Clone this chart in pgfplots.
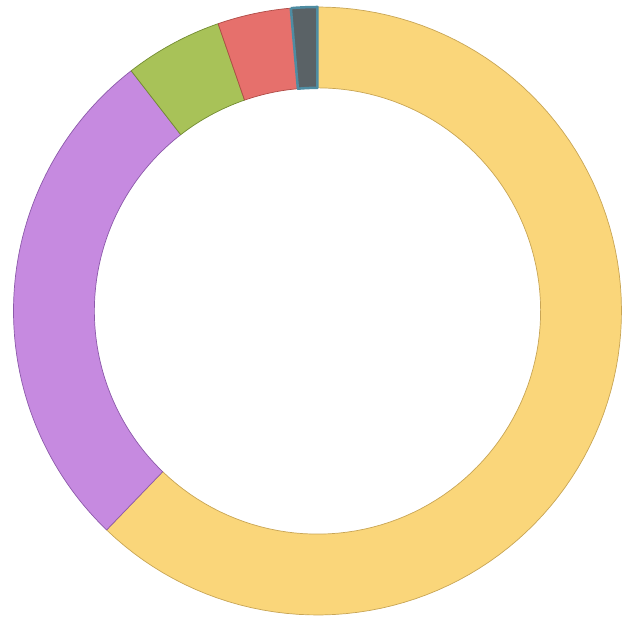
\documentclass[border=0pt]{standalone}
\usepackage{pgfplots}
\pgfplotsset{compat=1.18}
\definecolor{cyel}{RGB}{250,214,122}
\definecolor{cyeld}{RGB}{200,165,85}
\definecolor{cpur}{RGB}{198,138,224}
\definecolor{cpurd}{RGB}{140,90,170}
\definecolor{cgrn}{RGB}{168,194,88}
\definecolor{cgrnd}{RGB}{115,140,50}
\definecolor{cred}{RGB}{230,112,108}
\definecolor{credd}{RGB}{175,75,70}
\definecolor{cgry}{RGB}{90,98,102}
\definecolor{cblu}{RGB}{78,140,162}
% slice: #1 start (percent), #2 value (percent), #3 fill, #4 draw, #5 line width
\newcommand\slice[5]{%
\addplot[fill=#3, draw=#4, line width=#5, line join=round, domain=0:4, samples=401, variable=\t]
 ({(1-(1-0.734)*(min(max(\t-1,0),1)-min(max(\t-3,0),1)))*cos(90-3.6*(#1+#2*(min(\t,1)-min(max(\t-2,0),1))))},
  {(1-(1-0.734)*(min(max(\t-1,0),1)-min(max(\t-3,0),1)))*sin(90-3.6*(#1+#2*(min(\t,1)-min(max(\t-2,0),1))))});
}
\begin{document}
\begin{tikzpicture}
\begin{axis}[
  scale only axis, width=629pt, height=617pt,
  xmin=-1.0444, xmax=1.0247, ymin=-1.0066, ymax=1.0230,
  hide axis, clip=false]
\addplot[draw=none, forget plot] coordinates {(-1.0444,-1.0066) (1.0247,1.0230)};
\slice{0}{62.2}{cyel}{cyeld}{0.7pt}
\slice{62.2}{27.3}{cpur}{cpurd}{0.7pt}
\slice{89.5}{5.2}{cgrn}{cgrnd}{0.7pt}
\slice{94.7}{3.9}{cred}{credd}{0.7pt}
\slice{98.6}{1.4}{cgry}{cblu}{2.5pt}
\end{axis}
\end{tikzpicture}
\end{document}
